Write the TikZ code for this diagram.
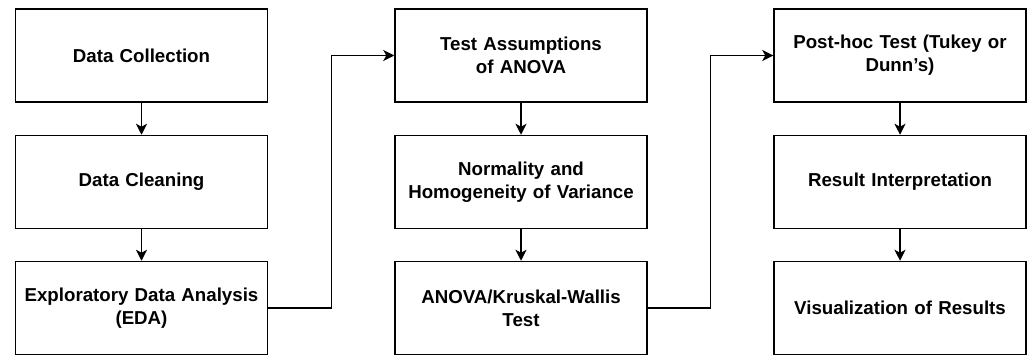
\documentclass[tikz,border=0pt]{standalone}
\usepackage{fontspec}
\setmainfont{Liberation Sans}
\usetikzlibrary{arrows.meta,calc}
\begin{document}
\begin{tikzpicture}[x=1pt,y=-1pt,
  stepbox/.style={draw=black, line width=1.5pt, fill=white,
    minimum width=252pt, minimum height=93pt, inner sep=2pt,
    align=center, text width=240pt,
    font=\fontsize{18.7}{23}\selectfont\bfseries},
  arr/.style={draw=black, line width=1.5pt,
    -{Stealth[length=11pt,width=11pt,inset=3pt]}}]
  \useasboundingbox (0,0) rectangle (1030,356);
  % first column
  \node[stepbox] (c1) at (141.5,55.5) {Data Collection};
  \node[stepbox] (c2) at (141.5,182) {Data Cleaning};
  \node[stepbox] (c3) at (141.5,308) {Exploratory Data Analysis\\(EDA)};
  % second column
  \node[stepbox] (t1) at (521,55.5) {Test Assumptions\\of ANOVA};
  \node[stepbox] (t2) at (521,182) {Normality and\\Homogeneity of Variance};
  \node[stepbox] (t3) at (521,308) {ANOVA/Kruskal-Wallis\\Test};
  % third column
  \node[stepbox] (p1) at (900,55.5) {Post-hoc Test (Tukey or\\Dunn's)};
  \node[stepbox] (p2) at (900,182) {Result Interpretation};
  \node[stepbox] (p3) at (900,308) {Visualization of Results};
  % vertical flow
  \draw[arr] (c1) -- (c2);
  \draw[arr] (c2) -- (c3);
  \draw[arr] (t1) -- (t2);
  \draw[arr] (t2) -- (t3);
  \draw[arr] (p1) -- (p2);
  \draw[arr] (p2) -- (p3);
  % column-to-column links
  \coordinate (m1) at ($(c3.east)!0.5!(t1.west)$);
  \coordinate (m2) at ($(t3.east)!0.5!(p1.west)$);
  \draw[arr] (c3.east) -| (m1) |- (t1.west);
  \draw[arr] (t3.east) -| (m2) |- (p1.west);
\end{tikzpicture}
\end{document}
